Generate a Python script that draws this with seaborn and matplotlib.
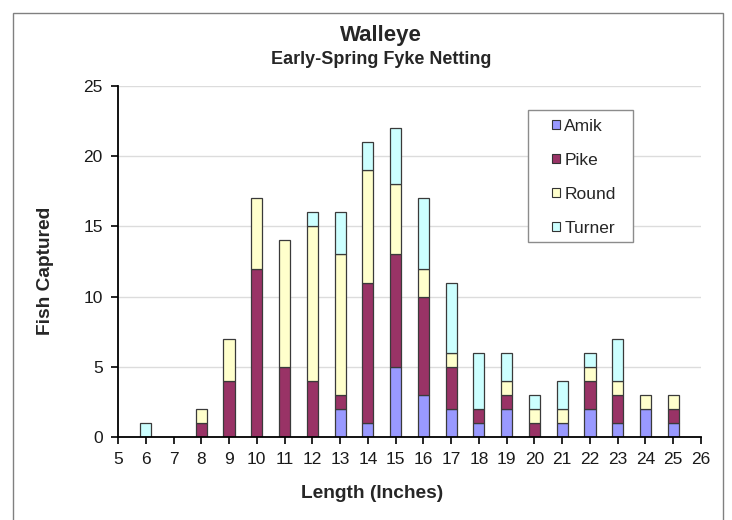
import matplotlib
matplotlib.use("Agg")
import matplotlib.pyplot as plt
import numpy as np
import pandas as pd
import seaborn as sns
from matplotlib.patches import Patch, Rectangle

# Walleye catch by length class (inches) for each lake
lengths = [6, 7, 8, 9, 10, 11, 12, 13, 14, 15, 16, 17, 18, 19, 20, 21, 22, 23, 24, 25]
amik    = [0, 0, 0, 0, 0,  0,  0,  2,  1,  5,  3,  2,  1,  2,  0,  1,  2,  1,  2,  1]
pike    = [0, 0, 1, 4, 12, 5,  4,  1,  10, 8,  7,  3,  1,  1,  1,  0,  2,  2,  0,  1]
round_  = [0, 0, 1, 3, 5,  9,  11, 10, 8,  5,  2,  1,  0,  1,  1,  1,  1,  1,  1,  1]
turner  = [1, 0, 0, 0, 0,  0,  1,  3,  2,  4,  5,  5,  4,  2,  1,  2,  1,  3,  0,  0]

lakes = ["Amik", "Pike", "Round", "Turner"]
colors = {"Amik": "#9999FF", "Pike": "#993366", "Round": "#FFFFCC", "Turner": "#CCFFFF"}

rows = []
for lake, counts in zip(lakes, [amik, pike, round_, turner]):
    for L, c in zip(lengths, counts):
        rows.append({"Length": L, "Lake": lake, "Count": c})
df = pd.DataFrame(rows)

sns.set_style("white")
plt.rcParams["font.family"] = ["Liberation Sans", "DejaVu Sans"]

W, H = 732, 520
fig = plt.figure(figsize=(W / 100, H / 100), dpi=100)
ax = fig.add_axes([118 / W, 1 - 437 / H, (701 - 118) / W, (437 - 86) / H])

# stacked bars: seaborn stacks the last hue level at the bottom
sns.histplot(
    data=df, x="Length", weights="Count", hue="Lake",
    hue_order=lakes[::-1], multiple="stack", discrete=True, shrink=0.4,
    palette=colors, edgecolor="#3a3a3a", linewidth=0.9, alpha=1,
    legend=False, ax=ax,
)
for p in list(ax.patches):
    if p.get_height() == 0:
        p.remove()

ax.set_xlim(5, 26)
ax.set_ylim(0, 25)
ax.set_xticks(range(5, 27))
ax.set_yticks(range(0, 26, 5))
ax.set_axisbelow(True)
ax.yaxis.grid(True, color="#dcdcdc", linewidth=1)
ax.xaxis.grid(False)
for s in ("top", "right"):
    ax.spines[s].set_visible(False)
for s in ("left", "bottom"):
    ax.spines[s].set_color("black")
    ax.spines[s].set_linewidth(1.3)
ax.tick_params(axis="both", direction="out", length=5, width=1.2, color="black",
               labelsize=12.5, labelcolor="#1a1a1a", bottom=True, left=True)
ax.tick_params(axis="x", pad=6)
ax.tick_params(axis="y", pad=6)
ax.set_xlabel("")
ax.set_ylabel("")

# legend with its own white frame
frame = Rectangle((0.703, 0.556), 0.18, 0.376, transform=ax.transAxes,
                  facecolor="white", edgecolor="#8c8c8c", linewidth=1, zorder=4)
ax.add_patch(frame)
handles = [Patch(facecolor=colors[k], edgecolor="#333333", linewidth=0.8, label=k) for k in lakes]
leg = ax.legend(handles=handles, loc="upper left", bbox_to_anchor=(0.744, 0.907),
                frameon=False, fontsize=12.5, handlelength=0.45, handleheight=0.45,
                handletextpad=0.28, labelspacing=1.1, borderpad=0, borderaxespad=0)
leg.set_zorder(5)

fig.text(381 / W, 1 - 35 / H, "Walleye", ha="center", va="center",
         fontsize=16, fontweight="bold")
fig.text(381 / W, 1 - 60 / H, "Early-Spring Fyke Netting", ha="center", va="center",
         fontsize=13, fontweight="bold")
fig.text(372 / W, 1 - 493 / H, "Length (Inches)", ha="center", va="center",
         fontsize=13.8, fontweight="bold")
fig.text(46 / W, 1 - 271 / H, "Fish Captured", ha="center", va="center",
         rotation=90, fontsize=13.8, fontweight="bold")

# outer chart border
fig.patches.append(Rectangle((13 / W, -0.1), (723 - 13) / W, 1.1 - 13 / H,
                             transform=fig.transFigure, fill=False,
                             edgecolor="#808080", linewidth=1))

fig.savefig("out.png", dpi=100)
